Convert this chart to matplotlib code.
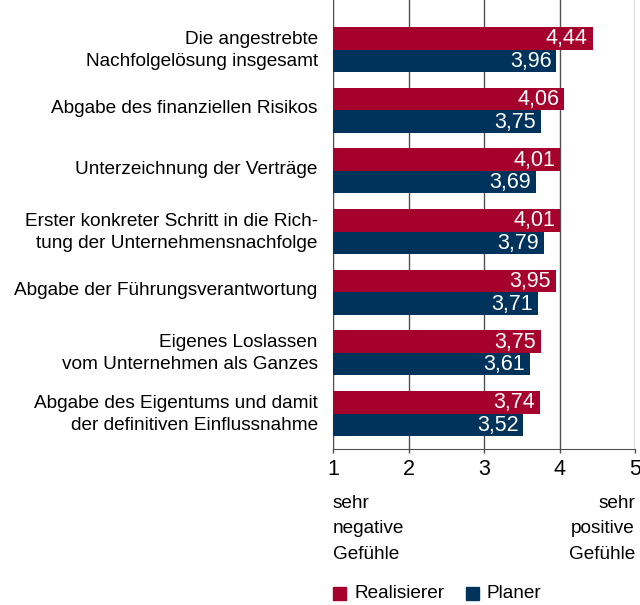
import numpy as np
import matplotlib
matplotlib.use("Agg")
import matplotlib.pyplot as plt
from matplotlib.patches import Rectangle
from matplotlib.transforms import ScaledTranslation

plt.rcParams['font.family'] = ['Liberation Sans', 'DejaVu Sans']

categories = [
    "Die angestrebte\nNachfolgelösung insgesamt",
    "Abgabe des finanziellen Risikos",
    "Unterzeichnung der Verträge",
    "Erster konkreter Schritt in die Rich-\ntung der Unternehmensnachfolge",
    "Abgabe der Führungsverantwortung",
    "Eigenes Loslassen\nvom Unternehmen als Ganzes",
    "Abgabe des Eigentums und damit\nder definitiven Einflussnahme",
]
realisierer = [4.44, 4.06, 4.01, 4.01, 3.95, 3.75, 3.74]
planer = [3.96, 3.75, 3.69, 3.79, 3.71, 3.61, 3.52]
series_names = ["Realisierer", "Planer"]
x_ticks = [1, 2, 3, 4, 5]

RED = "#A6002C"
BLUE = "#00335C"
GRID = "#505050"
FS = 13.7

fig = plt.figure(figsize=(6.4, 6.05), dpi=100)
ax = fig.add_axes([333 / 640, (605 - 449) / 605, (635 - 333) / 640, 449 / 605])

y = np.arange(len(categories))
h = 0.37
base = 1
r_bars = ax.barh(y - h / 2, np.array(realisierer) - base, left=base, height=h, color=RED, zorder=3)
p_bars = ax.barh(y + h / 2, np.array(planer) - base, left=base, height=h, color=BLUE, zorder=3)

for bars, vals in ((r_bars, realisierer), (p_bars, planer)):
    for b, v in zip(bars, vals):
        ax.annotate(f"{v:.2f}".replace(".", ","), (v, b.get_y() + b.get_height() / 2),
                    xytext=(-3.5, -0.5), textcoords="offset points", ha="right", va="center",
                    color="white", fontsize=15.5, zorder=4)

ax.set_xlim(1, 5)
ax.set_ylim(len(categories) - 1 + 0.585, -0.816)
ax.set_xticks(x_ticks)
ax.set_xticklabels([str(t) for t in x_ticks], fontsize=15.5)
ax.tick_params(axis="x", length=3, width=1, color=GRID, pad=4)
ax.set_yticks(y)
ax.set_yticklabels(categories, fontsize=FS, linespacing=1.35)
ax.tick_params(axis="y", length=0, pad=11)
# labels sit a little above the bar group centre
shift = ScaledTranslation(0, 3.5 / 100, fig.dpi_scale_trans)
for lab in ax.get_yticklabels():
    lab.set_transform(lab.get_transform() + shift)

ax.grid(axis="x", color=GRID, lw=1, zorder=0)
for s in ("top", "right"):
    ax.spines[s].set_visible(False)
ax.spines["left"].set_color(GRID)
ax.spines["bottom"].set_color(GRID)

fig.text(333 / 640, 1 - 495 / 605, "sehr\nnegative\nGefühle", ha="left", va="top",
         fontsize=FS, linespacing=1.65)
fig.text(635 / 640, 1 - 495 / 605, "sehr\npositive\nGefühle", ha="right", va="top",
         fontsize=FS, linespacing=1.65)

# legend drawn by hand
ly = 1 - 593 / 605
for x0, col, name in ((333, RED, series_names[0]), (466, BLUE, series_names[1])):
    fig.patches.append(Rectangle((x0 / 640, ly - 6.5 / 605), 13 / 640, 13 / 605,
                                 transform=fig.transFigure, color=col))
    fig.text((x0 + 21) / 640, ly, name, ha="left", va="center", fontsize=FS)

fig.savefig("out.png", dpi=100)
